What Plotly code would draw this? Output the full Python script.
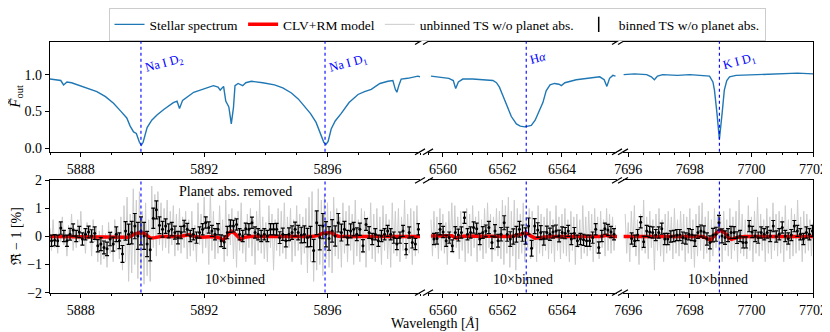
import numpy as np
import plotly.graph_objects as go

# ---------------- data ----------------
# Stellar spectrum (normalised out-of-transit flux)
sp1_wl = [5887.0, 5887.2, 5887.35, 5887.44, 5887.55, 5887.7, 5888.0, 5888.3, 5888.52, 5888.8,
          5889.06, 5889.3, 5889.49, 5889.6, 5889.71, 5889.8, 5889.9, 5889.96, 5890.02, 5890.15,
          5890.3, 5890.47, 5890.7, 5891.0, 5891.12, 5891.2, 5891.3, 5891.66, 5891.98, 5892.3,
          5892.45, 5892.52, 5892.63, 5892.7, 5892.8, 5892.88, 5892.95, 5893.0, 5893.1, 5893.25,
          5893.35, 5893.53, 5893.9, 5894.28, 5894.55, 5894.83, 5895.05, 5895.25, 5895.45, 5895.63,
          5895.72, 5895.8, 5895.88, 5895.95, 5896.02, 5896.12, 5896.25, 5896.44, 5896.7, 5896.99,
          5897.2, 5897.42, 5897.7, 5897.96, 5898.12, 5898.2, 5898.25, 5898.32, 5898.39, 5898.6,
          5898.93, 5899.0]
sp1_f = [0.94, 0.93, 0.92, 0.86, 0.90, 0.89, 0.85, 0.81, 0.77, 0.70,
         0.61, 0.50, 0.41, 0.30, 0.22, 0.20, 0.08, 0.04, 0.08, 0.28,
         0.38, 0.45, 0.53, 0.62, 0.64, 0.54, 0.65, 0.76, 0.80, 0.85,
         0.83, 0.79, 0.84, 0.64, 0.56, 0.33, 0.55, 0.85, 0.88, 0.85,
         0.89, 0.91, 0.89, 0.86, 0.82, 0.75, 0.67, 0.57, 0.47, 0.35,
         0.25, 0.17, 0.08, 0.05, 0.09, 0.26, 0.37, 0.47, 0.62, 0.73,
         0.77, 0.80, 0.88, 0.91, 0.92, 0.80, 0.76, 0.86, 0.94, 0.95,
         0.98, 0.97]
sp2_wl = [6559.6, 6559.8, 6560.0, 6560.2, 6560.35, 6560.43, 6560.52, 6560.67, 6561.0, 6561.4,
          6561.68, 6561.8, 6561.9, 6562.0, 6562.13, 6562.3, 6562.47, 6562.6, 6562.75, 6562.97,
          6563.1, 6563.19, 6563.3, 6563.36, 6563.47, 6563.6, 6563.75, 6563.9, 6563.98, 6564.1,
          6564.48, 6564.9, 6565.27, 6565.42, 6565.51, 6565.6, 6565.71, 6565.8]
sp2_f = [0.98, 0.97, 0.96, 0.95, 0.92, 0.81, 0.90, 0.94, 0.94, 0.93,
         0.92, 0.89, 0.83, 0.73, 0.61, 0.43, 0.33, 0.30, 0.29, 0.31,
         0.38, 0.47, 0.56, 0.62, 0.78, 0.86, 0.88, 0.87, 0.85, 0.89,
         0.93, 0.95, 0.97, 0.93, 0.84, 0.95, 0.99, 0.98]
sp3_wl = [7695.85, 7696.2, 7696.6, 7696.75, 7696.85, 7696.95, 7697.12, 7697.6, 7698.0, 7698.4,
          7698.64, 7698.75, 7698.8, 7698.88, 7698.96, 7699.05, 7699.12, 7699.2, 7699.29, 7699.5,
          7700.0, 7700.5, 7701.0, 7701.5, 7702.0]
sp3_f = [1.00, 1.01, 1.00, 0.97, 0.93, 0.98, 1.00, 0.99, 1.00, 0.99,
         0.98, 0.90, 0.79, 0.48, 0.12, 0.48, 0.79, 0.92, 0.97, 0.99,
         1.00, 1.01, 1.01, 1.02, 1.01]

# Unbinned transmission spectrum residuals [%] (0.05 A sampling)
ub1_start, ub2_start, ub3_start, ub_step = 5887.0, 6559.6, 7695.9, 0.05
ub1 = [0.3, -0.5, 0.6, -0.4, 0.1, -0.6, 0.5, -0.2, 0.7, -0.3,
       0.2, -0.7, 0.4, -0.1, 0.8, -0.5, 0.3, -0.4, 0.6, -0.2,
       0.9, -0.3, 0.2, -0.6, 0.5, -0.1, 0.4, -0.7, 0.6, -0.2,
       0.3, -0.9, 0.2, -1.0, 0.4, -0.8, 0.1, -1.1, 0.5, -0.6, 0.2, -0.9, 0.6, -0.5, 0.3, -0.8,
       0.7, -1.2, 1.1, -0.9, 1.4, -1.6, 0.8, -1.3, 1.7, -1.0, 1.3, -1.5, 1.6, -1.1, 0.9, -1.7,
       1.2, -1.4, 0.6, -1.6, 1.8, -0.4, 1.5, -0.7, 1.6, -0.3,
       1.2, -0.5, 1.0, -0.4, 1.3, -0.6, 0.9, -0.3, 1.1, -0.7, 0.8, -0.5, 1.0, -0.6, 0.7, -0.4, 0.9, -0.8,
       0.6, -0.7, 0.9, -0.5, 0.4, -0.9, 1.2, -0.3, 0.8, -0.6,
       1.4, -0.4, 0.7, -1.0, 1.6, -0.5, 0.9, -0.8, 0.5, -0.6,
       1.1, -0.4, 0.6, -0.9, 1.3, -0.7, 0.8, -0.3, 1.0, -0.8,
       0.7, -1.1, 0.9, -0.5, 1.2, -0.6, 0.5, -0.9, 0.8, -0.4,
       1.0, -0.7, 0.6, -1.0, 0.9, -0.5, 1.3, -0.6, 0.7, -0.8,
       0.5, -0.9, 1.1, -0.4, 0.8, -1.2, 0.6, -0.5, 1.0, -0.7,
       0.9, -0.6, 1.2, -0.8, 0.7, -0.4, 1.0, -0.9, 0.6, -0.7,
       1.1, -0.5, 0.8, -1.0, 0.7, -0.6,
       1.0, -1.3, 1.4, -0.9, 1.6, -1.6, 0.9, -1.2, 1.7, -1.0, 1.3, -1.4, 1.5, -0.8, 1.2, -1.1,
       0.9, -1.3, 1.4, -0.7,
       1.0, -0.8, 0.7, -1.1, 1.2, -0.6, 0.9, -0.9, 1.1, -0.5,
       0.8, -1.0, 1.3, -0.7, 0.6, -0.9, 1.0, -0.6, 0.9, -1.1,
       0.7, -0.5, 1.2, -0.8, 0.8, -0.9, 1.0, -0.6, 0.7, -1.0,
       1.1, -0.5, 0.8, -0.8, 0.6, -1.1, 1.2, -0.6, 0.9, -0.7,
       1.0, -0.9, 0.7, -0.5, 1.3, -0.8, 0.8, -0.6, 1.0, -1.0,
       0.9, -0.7, 1.1, -0.6]
ub2 = [0.6, -0.7, 0.9, -0.4, 0.7, -0.8, 1.0, -0.5, 0.8, -0.6,
       0.5, -1.0, 0.9, -0.3, 1.2, -0.6, 1.1, -0.4, 0.7, -0.8,
       0.9, -0.5, 0.6, -0.9, 1.0, -0.6, 0.8, -0.7, 1.1, -0.4,
       0.7, -0.9, 0.9, -0.5, 0.6, -0.8, 1.0, -0.6, 1.2, -0.4,
       0.8, -0.9, 0.7, -0.5, 1.0, -0.7, 0.9, -0.8, 1.3, -1.0,
       1.1, -0.6, 1.4, -1.1, 0.9, -0.7, 1.3, -1.2, 1.0, -0.8,
       0.8, -0.6, 1.2, -0.9, 0.7, -0.5, 1.0, -0.8, 0.9, -0.4,
       0.6, -0.9, 1.1, -0.6, 0.8, -0.7, 0.7, -0.5, 1.0, -0.8,
       0.9, -0.6, 0.6, -0.9, 1.1, -0.5, 0.7, -0.8, 0.8, -0.6,
       1.0, -0.7, 0.6, -0.9, 0.9, -0.5, 0.7, -1.0, 0.8, -0.4,
       0.6, -0.8, 1.1, -0.6, 0.7, -0.7, 0.9, -0.5, 0.8, -0.9,
       1.0, -0.6, 0.7, -0.8, 0.9, -0.4, 0.6, -0.7, 1.0, -0.5,
       0.8, -0.6, 0.7, -0.5, 0.4]
ub3 = [0.8, -0.6, 0.5, -0.9, 0.9, -0.4, 1.1, -0.7, 0.6, -1.0,
       0.8, -0.5, 1.3, -0.6, 0.7, -0.8, 0.9, -0.4, 0.6, -1.2,
       0.8, -0.5, 1.0, -0.7, 0.6, -0.9, 0.8, -0.6, 0.9, -0.5,
       0.7, -0.8, 1.0, -0.6, 0.6, -0.7, 0.9, -0.5, 0.8, -0.9,
       0.7, -0.6, 1.0, -0.8, 0.6, -1.1, 0.8, -0.7, 1.1, -0.5,
       1.2, -0.8, 0.7, -0.6, 0.9, -0.9, 0.6, -0.7, 1.0, -0.4,
       0.8, -0.6, 0.7, -0.9, 0.9, -0.5, 0.6, -0.7, 1.0, -0.8,
       0.7, -0.5, 0.9, -0.9, 1.3, -0.6, 0.8, -0.7, 0.6, -0.8,
       1.1, -0.5, 0.7, -0.9, 0.9, -0.6, 1.4, -0.7, 0.8, -0.5,
       0.6, -0.9, 1.0, -0.6, 0.7, -0.8, 1.2, -0.5, 0.8, -0.7,
       0.9, -0.6, 0.7, -0.9, 1.1, -0.5, 0.6, -0.8, 1.0, -0.7,
       0.8, -0.6, 1.3, -0.5, 0.7, -0.9, 0.9, -0.6, 0.8, -0.5,
       0.6, -0.7, 0.5]

# 10x binned residuals [%] and their errors
bin1_range = (5887.05, 5898.95)
bin1 = [-0.15, -0.13, -0.15, 0.30, 0.02, -0.15, 0.08, 0.23, 0.02, 0.16,
        -0.09, 0.08, 0.16, 0.02, 0.12, -0.33, -0.27, -0.39, -0.44, -0.09,
        -0.27, 0.08, -0.15, -0.62, 0.20, 0.08, 0.14, 0.37, 0.02, 0.20,
        0.02, -0.27, -0.47, 0.65, 0.95, 0.40, 0.26, 0.37, 0.20, 0.26,
        0.14, -0.04, 0.14, 0.37, 0.26, 0.02, 0.08, -0.04, 0.14, 0.26,
        0.50, 0.32, 0.20, 0.08, 0.26, -0.15, -0.20, 0.14, 0.37, 0.37,
        0.43, 0.08, 0.02, 0.28, 0.26, 0.49, 0.14, 0.08, 0.02, 0.08,
        0.02, 0.26, 0.26, 0.26, -0.04, 0.08, -0.15, 0.08, 0.14, 0.26,
        0.14, 0.05, 0.08, -0.04, 0.00, -0.50, 0.49, -0.04, 0.37, 0.08,
        -0.07, 0.20, 0.02, 0.49, 0.14, 0.26, -0.04, 0.20, 0.26, 0.08,
        0.26, -0.33, 0.43, 0.14, -0.09, 0.08, -0.15, 0.02, 0.08, 0.20,
        0.08, -0.04, -0.27, -0.04, 0.20, -0.45, 0.14, -0.21, -0.27, 0.26]
err1 = [0.20, 0.20, 0.20, 0.22, 0.20, 0.20, 0.21, 0.22, 0.20, 0.20,
        0.22, 0.20, 0.21, 0.22, 0.22, 0.22, 0.23, 0.23, 0.24, 0.24,
        0.25, 0.26, 0.28, 0.30, 0.33, 0.36, 0.40, 0.45, 0.48, 0.50,
        0.48, 0.45, 0.40, 0.36, 0.32, 0.30, 0.28, 0.26, 0.25, 0.24,
        0.23, 0.22, 0.22, 0.21, 0.21, 0.20, 0.20, 0.20, 0.20, 0.20,
        0.20, 0.20, 0.20, 0.20, 0.20, 0.21, 0.22, 0.22, 0.22, 0.21,
        0.20, 0.20, 0.20, 0.20, 0.20, 0.20, 0.20, 0.20, 0.20, 0.20,
        0.20, 0.20, 0.20, 0.21, 0.21, 0.22, 0.22, 0.23, 0.24, 0.25,
        0.26, 0.28, 0.30, 0.33, 0.36, 0.40, 0.42, 0.44, 0.45, 0.45,
        0.42, 0.40, 0.36, 0.33, 0.30, 0.28, 0.26, 0.25, 0.24, 0.23,
        0.22, 0.22, 0.21, 0.21, 0.20, 0.20, 0.20, 0.20, 0.20, 0.20,
        0.20, 0.20, 0.20, 0.20, 0.20, 0.20, 0.20, 0.20, 0.20, 0.20]
bin2_range = (6559.70, 6565.75)
bin2 = [-0.09, -0.07, 0.26, 0.16, -0.15, -0.04, -0.33, 0.14, 0.05, 0.14,
        0.67, 0.08, 0.14, 0.32, 0.28, -0.09, 0.14, 0.20, 0.32, -0.21,
        0.20, -0.15, 0.08, 0.49, 0.08, -0.09, 0.00, 0.08, 0.26, 0.12,
        0.02, 0.37, -0.42, 0.37, 0.23, 0.14, -0.07, 0.14, 0.08, 0.16,
        0.20, 0.02, 0.14, 0.12, 0.20, -0.09, 0.12, -0.15, -0.09, -0.12,
        -0.15, -0.15, -0.04, 0.26, -0.39, 0.02, 0.28, 0.23, 0.16, 0.08]
err2 = [0.20, 0.20, 0.20, 0.20, 0.20, 0.20, 0.21, 0.21, 0.21, 0.20,
        0.20, 0.20, 0.20, 0.20, 0.20, 0.20, 0.21, 0.21, 0.22, 0.22,
        0.22, 0.23, 0.24, 0.25, 0.25, 0.26, 0.27, 0.28, 0.28, 0.29,
        0.29, 0.29, 0.28, 0.27, 0.26, 0.25, 0.24, 0.23, 0.22, 0.22,
        0.21, 0.21, 0.20, 0.20, 0.20, 0.20, 0.20, 0.20, 0.20, 0.20,
        0.20, 0.20, 0.20, 0.20, 0.20, 0.20, 0.20, 0.20, 0.20, 0.20]
bin3_range = (7696.11, 7701.98)
bin3 = [-0.07, -0.15, 0.05, 0.51, -0.19, 0.20, 0.16, 0.14, 0.05, 0.14,
        0.28, -0.09, -0.09, 0.00, 0.02, 0.05, 0.05, -0.04, -0.07, 0.08,
        0.05, -0.15, 0.14, 0.20, 0.16, -0.09, -0.21, 0.05, 0.08, 0.49,
        0.02, -0.04, 0.05, 0.14, 0.14, -0.04, 0.02, -0.21, -0.21, 0.37,
        0.16, 0.02, -0.04, 0.14, 0.08, 0.14, 0.02, 0.37, 0.00, 0.08,
        0.32, 0.02, -0.07, 0.05, 0.37, 0.20, 0.08, -0.09, 0.14, 0.08, 0.20]
err3 = [0.20, 0.20, 0.20, 0.20, 0.20, 0.20, 0.20, 0.20, 0.20, 0.20,
        0.20, 0.20, 0.20, 0.20, 0.20, 0.20, 0.20, 0.20, 0.20, 0.20,
        0.20, 0.20, 0.21, 0.21, 0.22, 0.22, 0.23, 0.24, 0.25, 0.26,
        0.25, 0.24, 0.23, 0.22, 0.21, 0.21, 0.20, 0.20, 0.20, 0.20,
        0.20, 0.20, 0.20, 0.20, 0.20, 0.20, 0.20, 0.20, 0.20, 0.20,
        0.20, 0.20, 0.20, 0.20, 0.20, 0.20, 0.20, 0.20, 0.20, 0.20, 0.20]

# CLV+RM model [%]
mod1_wl = [5887.0, 5889.4, 5889.55, 5889.75, 5889.9, 5890.05, 5890.15, 5890.25, 5890.4, 5890.6,
           5891.2, 5891.4, 5891.5, 5891.7, 5891.9, 5892.3, 5892.5, 5892.6, 5892.7, 5892.8,
           5892.88, 5892.98, 5893.1, 5893.18, 5893.3, 5893.5, 5895.5, 5895.7, 5895.85, 5896.0,
           5896.15, 5896.22, 5896.35, 5896.6, 5897.5, 5897.8, 5898.2, 5898.5, 5899.0]
mod1 = [0.00, 0.00, -0.03, 0.09, 0.13, 0.12, 0.04, -0.06, -0.04, 0.00,
        0.00, 0.04, 0.06, 0.00, -0.03, 0.00, -0.05, -0.12, -0.05, 0.10,
        0.19, 0.12, -0.04, -0.10, -0.03, 0.00, 0.00, 0.04, 0.12, 0.14,
        0.14, 0.06, 0.01, 0.00, 0.00, 0.03, 0.00, 0.00, 0.00]
mod2_wl = [6559.6, 6560.3, 6560.45, 6560.6, 6560.8, 6562.3, 6562.55, 6562.75, 6562.85, 6562.95,
           6563.1, 6563.3, 6563.6, 6565.3, 6565.5, 6565.6, 6565.85]
mod2 = [0.02, 0.03, -0.06, 0.00, 0.02, 0.00, 0.06, 0.12, 0.10, 0.02,
        -0.06, -0.03, 0.00, 0.00, 0.04, 0.00, 0.00]
mod3_wl = [7695.85, 7698.4, 7698.55, 7698.68, 7698.82, 7698.98, 7699.12, 7699.25, 7699.35, 7699.55,
           7699.8, 7702.0]
mod3 = [0.00, 0.00, -0.06, -0.15, 0.08, 0.22, 0.15, -0.04, -0.10, -0.03,
        0.00, 0.00]

# Line positions and labels
line_wl = [5889.95, 5895.92, 6562.8, 7698.96]
line_panel = [0, 0, 1, 2]
line_label = ["Na I D<sub>2</sub>", "Na I D<sub>1</sub>", "H<i>α</i>", "K I D<sub>1</sub>"]
line_label_y = [1.15, 1.15, 1.22, 1.17]

x_ranges = [(5887.0, 5899.0), (6559.5, 6565.85), (7695.83, 7702.0)]
x_ticks = [[5888, 5892, 5896], [6560, 6562, 6564], [7696, 7698, 7700, 7702]]
x_minor = [1.0, 0.5, 0.5]

# ---------------- layout geometry ----------------
# the page body has an 8 px margin; coordinates below are window pixels
OFF = 8
W, H = 822, 324
def px(x): return (x - OFF) / W
def py(y): return 1 - (y - OFF) / H

xdom_px = [(50, 420), (428, 617), (623, 813)]
top_px = (37, 149)
bot_px = (178, 292)
FONT = "Liberation Serif"

fig = go.Figure()

ub_sets = [(ub1_start, ub1), (ub2_start, ub2), (ub3_start, ub3)]
bin_sets = [(bin1_range, bin1, err1), (bin2_range, bin2, err2), (bin3_range, bin3, err3)]
mod_sets = [(mod1_wl, mod1), (mod2_wl, mod2), (mod3_wl, mod3)]
sp_sets = [(sp1_wl, sp1_f), (sp2_wl, sp2_f), (sp3_wl, sp3_f)]

for k in range(3):
    xt = "x" if k == 0 else f"x{k+1}"
    yt = "y" if k == 0 else f"y{k+1}"
    xb = f"x{k+4}"
    yb = f"y{k+4}"
    wl, f = sp_sets[k]
    fig.add_trace(go.Scatter(x=wl, y=f, mode="lines", xaxis=xt, yaxis=yt,
                             line=dict(color="#1f77b4", width=1.4),
                             name="Stellar spectrum", showlegend=(k == 0), legendrank=1))
    st, vals = ub_sets[k]
    uwl = st + ub_step * np.arange(len(vals))
    fig.add_trace(go.Scatter(x=uwl, y=vals, mode="lines", xaxis=xb, yaxis=yb,
                             line=dict(color="#cccccc", width=1),
                             name="unbinned TS w/o planet abs.", showlegend=(k == 0), legendrank=3))
    (b0, b1), bv, be = bin_sets[k]
    bwl = np.linspace(b0, b1, len(bv))
    mwl, mv = mod_sets[k]
    fig.add_trace(go.Scatter(x=mwl, y=mv, mode="lines", xaxis=xb, yaxis=yb,
                             line=dict(color="red", width=3.5),
                             name="CLV+RM model", showlegend=(k == 0), legendrank=2))
    fig.add_trace(go.Scatter(x=bwl, y=bv, mode="markers", xaxis=xb, yaxis=yb,
                             marker=dict(color="black", size=3),
                             error_y=dict(type="data", array=be, color="black", thickness=1.2, width=2),
                             name="binned TS w/o planet abs.", showlegend=False,
                             legendgroup="binned"))

# legend entry for the binned points, shown as an error-bar glyph
fig.add_trace(go.Scatter(x=[None], y=[None], mode="markers", xaxis="x4", yaxis="y4",
                         marker=dict(symbol="line-ns-open", size=11, color="black",
                                     line=dict(color="black", width=1.5)),
                         name="binned TS w/o planet abs.", showlegend=True,
                         legendgroup="binned", legendrank=4))

layout = dict(
    width=W, height=H, margin=dict(l=0, r=0, t=0, b=0),
    paper_bgcolor="white", plot_bgcolor="white",
    font=dict(family=FONT, color="black", size=14),
    showlegend=True,
    legend=dict(orientation="h", x=px(437), xanchor="center", y=py(3), yanchor="top",
                bgcolor="white", bordercolor="#cccccc", borderwidth=1,
                font=dict(family=FONT, size=13.5), traceorder="normal",
                itemwidth=30, tracegroupgap=0),
)

axis_common = dict(showgrid=False, zeroline=False, showline=True, linecolor="black",
                   linewidth=1.2, ticks="outside", ticklen=4, tickwidth=1, tickcolor="black",
                   tickfont=dict(family=FONT, size=14), automargin=False)

for k in range(3):
    dom = [px(xdom_px[k][0]), px(xdom_px[k][1])]
    for row in range(2):
        idx = k + 1 + 3 * row
        xname = "xaxis" if idx == 1 else f"xaxis{idx}"
        yname = "yaxis" if idx == 1 else f"yaxis{idx}"
        anchor = "y" if idx == 1 else f"y{idx}"
        layout[xname] = dict(axis_common, domain=dom, range=list(x_ranges[k]), anchor=anchor,
                             tickvals=x_ticks[k], mirror=True,
                             minor=dict(dtick=x_minor[k], tick0=x_ticks[k][0], ticks="outside",
                                        ticklen=2, tickcolor="black"))
        ydom = top_px if row == 0 else bot_px
        yd = [py(ydom[1]), py(ydom[0])]
        yr = [-0.05, 1.45] if row == 0 else [-2, 2]
        xanchor_name = "x" if idx == 1 else f"x{idx}"
        ya = dict(axis_common, domain=yd, range=yr, anchor=xanchor_name)
        if k == 0:
            if row == 0:
                ya.update(tickvals=[0, 0.5, 1.0], ticktext=["0.0", "0.5", "1.0"])
            else:
                ya.update(tickvals=[-2, -1, 0, 1, 2])
        elif k == 1:
            ya.update(showline=False, showticklabels=False, ticks="")
        else:
            ya.update(side="right", showticklabels=False, ticks="")
        layout[yname] = ya

fig.update_layout(**layout)

# vertical line markers + labels
for wl, p, lab, ly in zip(line_wl, line_panel, line_label, line_label_y):
    for row in range(2):
        idx = p + 1 + 3 * row
        xr = "x" if idx == 1 else f"x{idx}"
        yr = "y" if idx == 1 else f"y{idx}"
        fig.add_shape(type="line", xref=xr, yref=f"{yr} domain", x0=wl, x1=wl, y0=0, y1=1,
                      line=dict(color="blue", width=1.1, dash="dot"), layer="above")
    xr = "x" if p == 0 else f"x{p+1}"
    yr = "y" if p == 0 else f"y{p+1}"
    fig.add_annotation(x=wl, y=ly, xref=xr, yref=yr, text=lab, showarrow=False,
                       xanchor="left", yanchor="middle", xshift=0, textangle=-15,
                       font=dict(family=FONT, size=12.5, color="blue"))

# panel annotations
fig.add_annotation(x=0.5, y=1.62, xref="x4 domain", yref="y4", text="Planet abs. removed",
                   showarrow=False, xanchor="center", yanchor="middle",
                   font=dict(family=FONT, size=14))
for k in range(3):
    fig.add_annotation(x=0.5, y=-1.52, xref=f"x{k+4} domain", yref=f"y{k+4}", text="10×binned",
                       showarrow=False, xanchor="center", yanchor="middle",
                       font=dict(family=FONT, size=14))

# axis titles
fig.add_annotation(x=px(16), y=py((top_px[0] + top_px[1]) / 2), xref="paper", yref="paper",
                   text="<i>F̃</i><sub>out</sub>", textangle=-90, showarrow=False,
                   xanchor="center", yanchor="middle", font=dict(family=FONT, size=15))
fig.add_annotation(x=px(16), y=py((bot_px[0] + bot_px[1]) / 2), xref="paper", yref="paper",
                   text="ℜ̃ − 1 [%]", textangle=-90, showarrow=False,
                   xanchor="center", yanchor="middle", font=dict(family=FONT, size=14))
fig.add_annotation(x=px(435), y=py(323), xref="paper", yref="paper",
                   text="Wavelength [<i>Å</i>]", showarrow=False,
                   xanchor="center", yanchor="middle", font=dict(family=FONT, size=14))

# broken-axis diagonal marks
for (ya, yb) in [top_px, bot_px]:
    for xm in [420, 428, 617, 623]:
        for ym in [ya, yb]:
            fig.add_shape(type="line", xref="paper", yref="paper",
                          x0=px(xm - 5), y0=py(ym + 3), x1=px(xm + 5), y1=py(ym - 3),
                          line=dict(color="black", width=1.2))

fig.write_html("out.html")
